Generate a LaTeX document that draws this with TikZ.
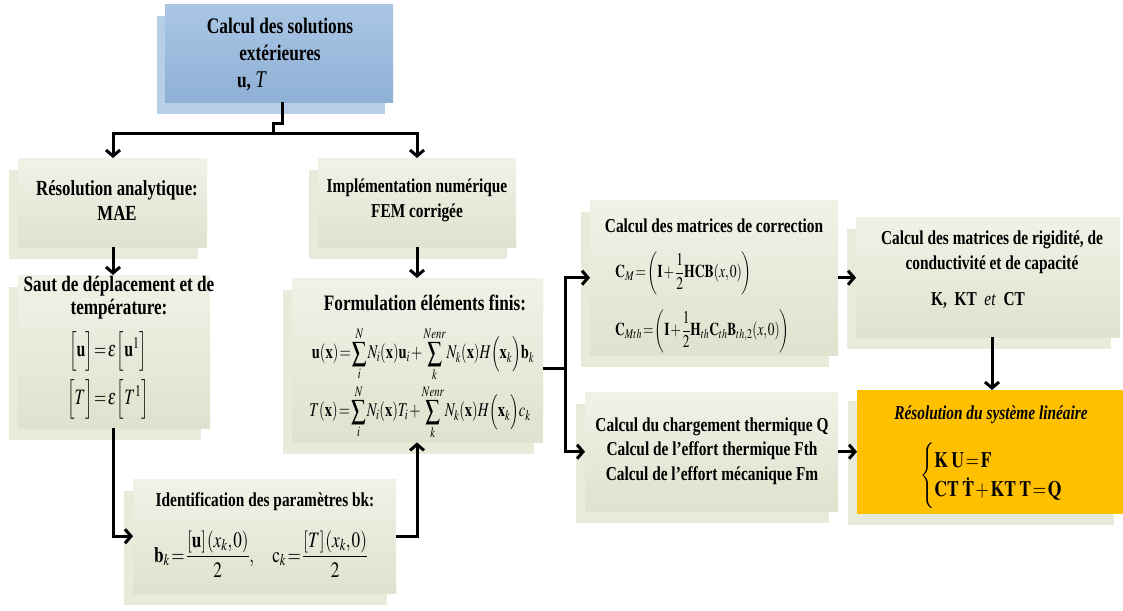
\documentclass[tikz,border=0pt]{standalone}
\usepackage{amsmath}
\usepackage{mathptmx}
\usepackage[no-math]{fontspec}
\setmainfont{Liberation Serif}[FakeStretch=0.78]
\usepackage{graphicx}
\usetikzlibrary{arrows.meta,shadows}
\definecolor{gtop}{RGB}{240,242,231}
\definecolor{gbot}{RGB}{221,227,206}
\definecolor{gshad}{RGB}{231,235,218}
\definecolor{btop}{RGB}{170,198,228}
\definecolor{bbot}{RGB}{142,176,214}
\definecolor{bshad}{RGB}{183,206,231}
\definecolor{orng}{RGB}{255,192,0}
\newcommand{\nx}[2][0.8]{\scalebox{#1}[1]{#2}}
\thickmuskip=1.5mu
\medmuskip=1.5mu
\thinmuskip=1mu
\tikzset{
 gbox/.style={shade, top color=gtop, bottom color=gbot, inner sep=0pt, anchor=north west,
   general shadow={fill=gshad, shadow xshift=-9pt, shadow yshift=-12pt}},
 bbox/.style={shade, top color=btop, bottom color=bbot, inner sep=0pt, anchor=north west,
   general shadow={fill=bshad, shadow xshift=-8pt, shadow yshift=-12pt}},
 obox/.style={fill=orng, inner sep=0pt, anchor=north west,
   general shadow={fill=gshad, shadow xshift=-9pt, shadow yshift=-11pt}},
 txt/.style={align=center, inner sep=0pt, text=black},
 conn/.style={line width=3pt, line join=miter},
 arr/.style={conn, -{Straight Barb[length=6pt,width=14pt]}},
}
\begin{document}
\begin{tikzpicture}[x=1pt,y=-1pt]
\useasboundingbox (0,0) rectangle (1123,610);
\fill[white] (0,0) rectangle (1123,610);
% boxes
\node[bbox, minimum width=228pt, minimum height=98pt] (b-top) at (165,4) {};
\node[gbox, minimum width=189pt, minimum height=89pt] (b-res) at (18,158) {};
\node[gbox, minimum width=198pt, minimum height=89pt] (b-impl) at (318,158) {};
\node[gbox, minimum width=192pt, minimum height=153pt] (b-saut) at (18,275) {};
\node[gbox, minimum width=251pt, minimum height=164pt] (b-form) at (292,278) {};
\node[gbox, minimum width=263pt, minimum height=114pt] (b-ident) at (133,479) {};
\node[gbox, minimum width=248pt, minimum height=155pt] (b-corr) at (590,200) {};
\node[gbox, minimum width=264pt, minimum height=120pt] (b-rig) at (856,217) {};
\node[gbox, minimum width=253pt, minimum height=119pt] (b-charg) at (585,392) {};
\node[obox, minimum width=266pt, minimum height=124pt] (b-orange) at (857,390) {};
% texts
\node[txt, font=\fontsize{22.2}{27}\selectfont\bfseries] (t-top) at (280,55)
  {Calcul des solutions\\extérieures\\\textbf{u}, \textit{\mdseries\fontsize{24}{27}\selectfont T}\hspace*{56pt}};
\node[txt, font=\fontsize{21.5}{25}\selectfont\bfseries] (t-res) at (117,200.5)
  {Résolution analytique:\\MAE};
\node[txt, font=\fontsize{19.7}{25}\selectfont\bfseries] (t-impl) at (417,200.5)
  {Implémentation numérique\\FEM corrigée};
\node[txt, font=\fontsize{22}{23}\selectfont\bfseries] (t-saut) at (119,298)
  {Saut de déplacement et de\\température:};
\node[txt, font=\fontsize{22}{26}\selectfont] (f-saut1) at (108,351)
  {\nx[0.72]{$\left[\vphantom{\Big|}\mathbf{u}\right]=\epsilon\left[\vphantom{\Big|}\mathbf{u}^{1}\right]$}};
\node[txt, font=\fontsize{22}{26}\selectfont] (f-saut2) at (108,399)
  {\nx[0.72]{$\left[\vphantom{\Big|}T\right]=\epsilon\left[\vphantom{\Big|}T^{1}\right]$}};
\node[txt, font=\fontsize{22}{26}\selectfont\bfseries] (t-form) at (425,303)
  {Formulation éléments finis:};
\node[txt, font=\fontsize{19.5}{24}\selectfont] (f-form1) at (423,354)
  {\nx[0.74]{$\displaystyle \mathbf{u}(\mathbf{x})=\sum_{i}^{N}N_{i}(\mathbf{x})\mathbf{u}_{i}+\sum_{k}^{Nenr}N_{k}(\mathbf{x})H\Big(\mathbf{x}_{k}\Big)\mathbf{b}_{k}$}};
\node[txt, font=\fontsize{19.5}{24}\selectfont] (f-form2) at (420,412)
  {\nx[0.74]{$\displaystyle T(\mathbf{x})=\sum_{i}^{N}N_{i}(\mathbf{x})T_{i}+\sum_{k}^{Nenr}N_{k}(\mathbf{x})H\Big(\mathbf{x}_{k}\Big)c_{k}$}};
\node[txt, font=\fontsize{19.7}{24}\selectfont\bfseries] (t-ident) at (265,502)
  {Identification des paramètres bk:};
\node[txt, font=\fontsize{22}{26}\selectfont] (f-ident) at (261,554)
  {\nx[0.78]{$\displaystyle \mathbf{b}_{k}=\frac{\left[\mathbf{u}\right](x_{k},0)}{2},\quad \mathrm{c}_{k}=\frac{\left[T\right](x_{k},0)}{2}$}};
\node[txt, font=\fontsize{19.7}{24}\selectfont\bfseries] (t-corr) at (714,226)
  {Calcul des matrices de correction};
\node[txt, anchor=west, font=\fontsize{18}{22}\selectfont] (f-corr1) at (615,273)
  {\nx[0.76]{$\mathbf{C}_{M}=\left(\mathbf{I}+\dfrac{1}{2}\mathbf{HCB}(x,0)\right)$}};
\node[txt, anchor=west, font=\fontsize{18}{22}\selectfont] (f-corr2) at (615,331)
  {\nx[0.74]{$\mathbf{C}_{Mth}=\left(\mathbf{I}+\dfrac{1}{2}\mathbf{H}_{th}\mathbf{C}_{th}\mathbf{B}_{th,2}(x,0)\right)$}};
\node[txt, font=\fontsize{19.7}{25}\selectfont\bfseries] (t-rig) at (992,252.5)
  {Calcul des matrices de rigidité, de\\conductivité et de capacité};
\node[txt, font=\fontsize{19.7}{25}\selectfont\bfseries] (t-rig2) at (978,300)
  {K,\ \ KT\ \ \textit{\mdseries et}\ \ CT};
\node[txt, font=\fontsize{19.7}{24.5}\selectfont\bfseries] (t-charg) at (712,451)
  {Calcul du chargement thermique Q\\Calcul de l’effort thermique Fth\\Calcul de l’effort mécanique Fm};
\node[txt, font=\fontsize{19.7}{24}\selectfont\bfseries\itshape] (t-orange) at (991,415)
  {Résolution du système linéaire};
\node[txt, anchor=west, font=\fontsize{22}{26}\selectfont] (f-orange) at (920,476)
  {\nx[0.8]{$\renewcommand{\arraystretch}{1.15}\left\{\begin{array}{@{}l@{}}\mathbf{K\ U=F}\\ \mathbf{CT\ \dot{T}+KT\ T=Q}\end{array}\right.$}};
% connectors
\coordinate (j1) at (282,123);
\coordinate (j2) at (273,123);
\coordinate (j3) at (273,133);
\coordinate (xl) at (113,133);
\coordinate (xr) at (417,133);
\coordinate (vx) at (565,368);
\coordinate (xo) at (992,0);
\draw[conn] (b-top.south -| j1) -- (j1) -- (j2) -- (j3);
\draw[arr] (j3) -- (xl) -- (xl |- b-res.north);
\draw[arr] (j3) -- (xr) -- (xr |- b-impl.north);
\draw[arr] (xl |- b-res.south) -- (xl |- b-saut.north);
\draw[arr] (xr |- b-impl.south) -- (xr |- b-form.north);
\draw[arr] (xl |- b-saut.south) |- (b-ident.west);
\draw[arr] (b-ident.east) -| (xr |- b-form.south);
\draw[conn] (b-form.east |- vx) -- (vx);
\draw[arr] (vx |- b-charg.west) |- (b-corr.west);
\draw[arr] (vx |- b-corr.west) |- (b-charg.west);
\draw[arr] (b-corr.east) -- (b-rig.west |- b-corr.east);
\draw[arr] (xo |- b-rig.south) -- (xo |- b-orange.north);
\draw[arr] (b-charg.east) -- (b-orange.west |- b-charg.east);
\end{tikzpicture}
\end{document}
